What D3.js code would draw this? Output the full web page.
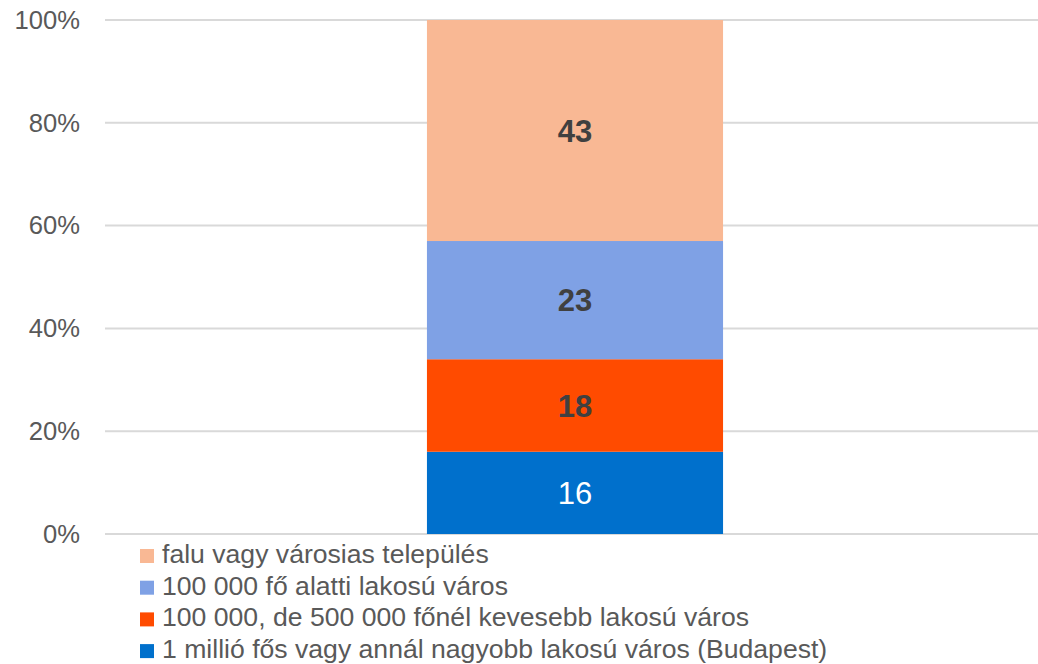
<!DOCTYPE html>
<html>
<head>
<meta charset="utf-8">
<script src="https://cdn.jsdelivr.net/npm/d3@7"></script>
<style>
  body { margin: 0; background: #fff; overflow: hidden; }
  text { font-family: "Liberation Sans", Arial, sans-serif; }
</style>
</head>
<body>
<div id="chart"></div>
<script>
// data (bottom to top)
const categories = ["1 millió fős vagy annál nagyobb lakosú város (Budapest)",
  "100 000, de 500 000 főnél kevesebb lakosú város",
  "100 000 fő alatti lakosú város",
  "falu vagy városias település"]
const values = [16, 18, 23, 43]
const colors = ["#0070cc", "#ff4b00", "#7fa1e5", "#f9b894"]
const labelColors = ["#ffffff", "#404040", "#404040", "#404040"]
const labelWeights = ["normal", "bold", "bold", "bold"]
const yTicks = [0, 20, 40, 60, 80, 100]

const W = 1038, H = 664
const margin = {top: 20, right: -7, bottom: 130, left: 105},
  width = W - margin.left - margin.right,
  height = H - margin.top - margin.bottom;

const svg = d3.select("#chart").append("svg")
  .attr("width", W).attr("height", H)
const g = svg.append("g")
  .attr("transform", "translate(" + margin.left + "," + margin.top + ")")

const y = d3.scaleLinear().domain([0, 100]).range([height, 0])
const x = d3.scaleBand().domain(["all"]).range([0, width]).paddingInner(0.685).paddingOuter(0.3425)

// grid
g.selectAll("line.grid")
  .data(yTicks)
  .enter().append("line")
    .attr("x1", 0).attr("x2", width)
    .attr("y1", d => y(d)).attr("y2", d => y(d))
    .attr("stroke", "#d9d9d9").attr("stroke-width", 2)

// y axis labels
const yAxis = g.append("g")
  .call(d3.axisLeft(y).tickValues(yTicks).tickSize(0).tickPadding(25).tickFormat(d => d + "%"))
yAxis.select(".domain").remove()
yAxis.selectAll("text")
  .attr("fill", "#595959")
  .style("font-size", "25.6px")
  .style("font-family", "Liberation Sans, Arial, sans-serif")

// stacks
let cum = 0
const stack = values.map((v, i) => { const s = {v, i, y0: cum, y1: cum + v}; cum += v; return s })

g.selectAll("rect.bar")
  .data(stack)
  .enter().append("rect")
    .attr("x", x("all"))
    .attr("width", x.bandwidth())
    .attr("y", d => y(d.y1))
    .attr("height", d => y(d.y0) - y(d.y1))
    .attr("fill", d => colors[d.i])

g.selectAll("text.lbl")
  .data(stack)
  .enter().append("text")
    .attr("x", x("all") + x.bandwidth() / 2)
    .attr("y", d => y((d.y0 + d.y1) / 2))
    .attr("dy", "0.36em")
    .attr("text-anchor", "middle")
    .attr("fill", d => labelColors[d.i])
    .attr("font-weight", d => labelWeights[d.i])
    .style("font-size", "31px")
    .text(d => d.v)

// legend (top item = last category)
const legend = svg.append("g").attr("transform", "translate(140,563)")
const legendItems = categories.map((c, i) => ({c, i})).reverse()
const li = legend.selectAll("g")
  .data(legendItems)
  .enter().append("g")
    .attr("transform", (d, k) => "translate(0," + (k * 31.7) + ")")
li.append("rect")
  .attr("x", 0).attr("y", -14).attr("width", 14).attr("height", 14)
  .attr("fill", d => colors[d.i])
li.append("text")
  .attr("x", 22).attr("y", 0)
  .attr("fill", "#595959")
  .style("font-size", "26.6px")
  .text(d => d.c)
</script>
</body>
</html>
